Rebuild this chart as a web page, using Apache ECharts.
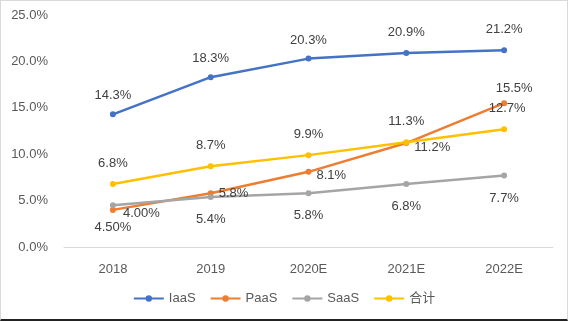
<!DOCTYPE html>
<html><head><meta charset="utf-8">
<script src="https://cdn.jsdelivr.net/npm/echarts@6/dist/echarts.min.js"></script>
<style>html,body{margin:0;padding:0;background:#fff}
#wrap{position:relative;width:568px;height:321px}
#c{position:absolute;left:0;top:0;width:568px;height:321px}
#b{position:absolute;left:0;top:0;width:568px;height:321px;box-sizing:border-box;border:1px solid #d9d9d9;border-bottom:2px solid #222;pointer-events:none}
</style>
</head><body><div id="wrap"><div id="c"></div><div id="b"></div></div>
<script>
const categories = ['2018','2019','2020E','2021E','2022E'];
const iaas = [14.3, 18.3, 20.3, 20.9, 21.2];
const paas = [4.0, 5.8, 8.1, 11.2, 15.5];
const saas = [4.5, 5.4, 5.8, 6.8, 7.7];
const total = [6.8, 8.7, 9.9, 11.3, 12.7];
const iaasLabels = ['14.3%','18.3%','20.3%','20.9%','21.2%'];
const paasLabels = ['4.00%','5.8%','8.1%','11.2%','15.5%'];
const saasLabels = ['4.50%','5.4%','5.8%','6.8%','7.7%'];
const totalLabels = ['6.8%','8.7%','9.9%','11.3%','12.7%'];
const yTicks = [0,5,10,15,20,25];

const FONT = '"Liberation Sans","Noto Sans CJK SC",sans-serif';
const lblStyle = {fontFamily: FONT, fontSize: 13, color: '#404040'};
function mk(vals, labels, pos, offsets){
  return vals.map((v,i)=>({value:v, label:Object.assign({show:true, formatter:labels[i], position:pos[i]||pos, offset: offsets?offsets[i]:[0,0]}, lblStyle)}));
}
const chart = echarts.init(document.getElementById('c'));
chart.setOption({
  animation:false,
  grid:{left:64, right:15, top:15, bottom:74},
  legend:{bottom:11, left:'center', itemWidth:30, itemHeight:8, itemGap:14,
    textStyle:{fontFamily:FONT, fontSize:13, color:'#595959'},
    data:['IaaS','PaaS','SaaS','合计']},
  xAxis:{type:'category', data:categories, boundaryGap:true,
    axisLine:{lineStyle:{color:'#d9d9d9'}}, axisTick:{show:false},
    axisLabel:{fontFamily:FONT, fontSize:13, color:'#595959', margin:16}},
  yAxis:{type:'value', min:yTicks[0], max:yTicks[yTicks.length-1], interval:5,
    axisLabel:{formatter:v=>v.toFixed(1)+'%', fontFamily:FONT, fontSize:13, color:'#595959', margin:16},
    splitLine:{show:false}, axisLine:{show:false}, axisTick:{show:false}},
  series:[
    {name:'IaaS', type:'line', color:'#4472C4', symbol:'circle', symbolSize:6, lineStyle:{width:2.5},
     data: mk(iaas, iaasLabels, ['top','top','top','top','top'], [[0,-4],[0,-4],[0,-4],[0,-6],[0,-6]])},
    {name:'PaaS', type:'line', color:'#ED7D31', symbol:'circle', symbolSize:6, lineStyle:{width:2.5},
     data: mk(paas, paasLabels, ['right','right','right','right','top'], [[2,4],[0,0],[0,4],[0,4],[10,0]])},
    {name:'SaaS', type:'line', color:'#A5A5A5', symbol:'circle', symbolSize:6, lineStyle:{width:2.5},
     data: mk(saas, saasLabels, ['bottom','bottom','bottom','bottom','bottom'], [[0,8],[0,8],[0,8],[0,8],[0,8]])},
    {name:'合计', type:'line', color:'#FFC000', symbol:'circle', symbolSize:6, lineStyle:{width:2.5},
     data: mk(total, totalLabels, ['top','top','top','top','top'], [[0,-6],[0,-6],[0,-6],[0,-6],[3,-6]])}
  ]
});
</script></body></html>
